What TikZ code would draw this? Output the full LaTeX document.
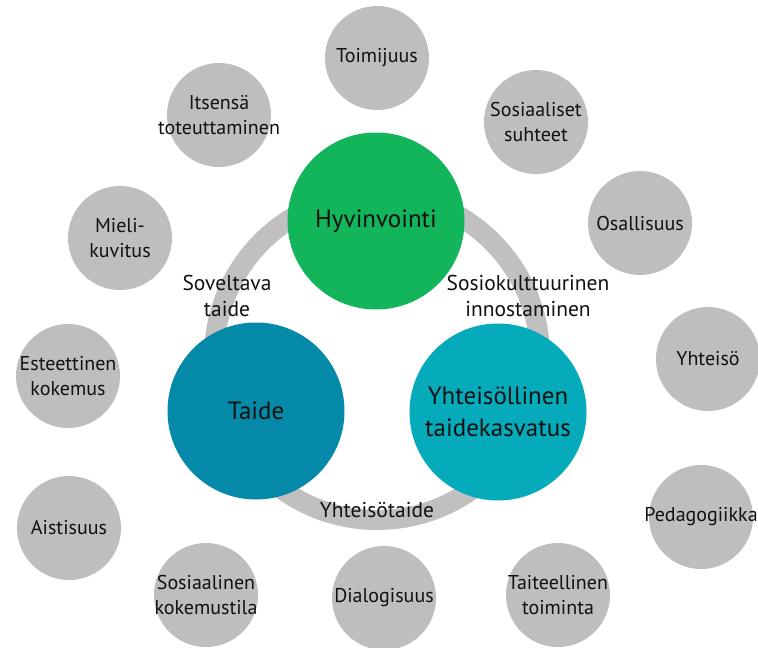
\documentclass[tikz,border=0pt]{standalone}
\usepackage{fontspec}
\setmainfont{PT Sans}
\definecolor{ggray}{HTML}{BEBEBE}
\definecolor{ringgray}{HTML}{C0C0C0}
\definecolor{cgreen}{HTML}{12B55A}
\definecolor{cteal}{HTML}{0489A8}
\definecolor{ccyan}{HTML}{05AABB}
\definecolor{txt}{HTML}{111111}
\begin{document}
\begin{tikzpicture}[x=1pt,y=-1pt,
  gcirc/.style={circle,fill=ggray,draw=none,minimum size=104pt,inner sep=0pt},
  gtext/.style={align=center,font=\fontsize{20}{25}\selectfont,text=txt,inner sep=0pt},
  mcirc/.style={circle,draw=none,minimum size=177pt,inner sep=0pt},
  mtext/.style={align=center,font=\fontsize{25}{32}\selectfont,text=txt,inner sep=0pt},
  ltext/.style={align=center,font=\fontsize{21.5}{26}\selectfont,text=txt,inner sep=0pt},
  ring/.style={draw=ringgray,line width=20pt,fill=white}]
\useasboundingbox (0,0) rectangle (758,648);
\clip (0,0) rectangle (758,648);
% outer gray circles
\node[gcirc] (toim) at (377,58) {};
\node[gcirc] (itse) at (219,115) {};
\node[gcirc] (miel) at (120,238) {};
\node[gcirc] (sosi) at (536,122) {};
\node[gcirc] (osal) at (640,223) {};
\node[gcirc] (este) at (68,376) {};
\node[gcirc] (aist) at (69,528) {};
\node[gcirc] (soko) at (206,595) {};
\node[gcirc] (dial) at (384,598) {};
\node[gcirc] (taic) at (558,595) {};
\node[gcirc] (yhte) at (708,359) {};
\node[gcirc] (peda) at (701,517) {};
\node[gtext] at (toim) {Toimijuus};
\node[gtext] at (itse) {Itsensä\\toteuttaminen};
\node[gtext] at (miel) {Mieli-\\kuvitus};
\node[gtext] at (sosi) {Sosiaaliset\\suhteet};
\node[gtext] at (osal) {Osallisuus};
\node[gtext] at (este) {Esteettinen\\kokemus};
\node[gtext] at (aist) {Aistisuus};
\node[gtext] at (soko) {Sosiaalinen\\kokemustila};
\node[gtext] at (dial) {Dialogisuus};
\node[gtext] at (taic) {Taiteellinen\\toiminta};
\node[gtext] at (yhte) {Yhteisö};
\node[gtext] at (peda) {Pedagogiikka};
% ring
\coordinate (rc) at (377,357);
\draw[ring] (rc) circle (163);
% ring labels
\node[ltext] (sov) at (227,296) {Soveltava\\taide};
\node[ltext] (sok) at (528,296) {Sosiokulttuurinen\\innostaminen};
% main circles
\node[mcirc,fill=cgreen] (hyv) at (376,221) {};
\node[mcirc,fill=cteal] (tai) at (256,411) {};
\node[mcirc,fill=ccyan] (yk) at (498,412) {};
\node[mtext] at (hyv) {Hyvinvointi};
\node[mtext] at (tai) {Taide};
\node[mtext] at (yk) {Yhteisöllinen\\taidekasvatus};
\node[ltext] (yta) at (377,510) {Yhteisötaide};
\end{tikzpicture}
\end{document}
